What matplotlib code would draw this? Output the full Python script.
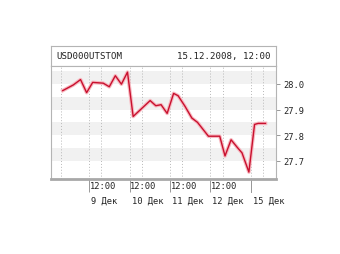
import matplotlib
matplotlib.use("Agg")
import matplotlib.pyplot as plt
import matplotlib.transforms as mtransforms

# trading-time axis: hours from 9 Dec 12:00, 10 trading hours per day
hours = [-6.5, -3.9, -2.1, -0.6, 0.9, 3.5, 5.0, 6.5, 8.0, 9.5,
         10.9, 13.0, 15.1, 16.5, 17.8, 19.3, 20.9, 22.0, 23.7, 25.4,
         26.8, 29.5, 32.3, 33.6, 35.1, 36.7, 37.8, 39.5, 40.9, 41.8, 43.6]
rate = [27.974, 27.996, 28.017, 27.966, 28.006, 28.003, 27.989, 28.032, 27.999, 28.046,
        27.873, 27.904, 27.935, 27.915, 27.919, 27.885, 27.963, 27.954, 27.913, 27.867,
        27.850, 27.796, 27.796, 27.719, 27.782, 27.751, 27.731, 27.656, 27.842, 27.846, 27.846]

title_left = "USD000UTSTOM"
title_right = "15.12.2008, 12:00"
noon_ticks = [0, 10, 20, 30]
day_labels = ["9 Дек", "10 Дек", "11 Дек", "12 Дек"]
last_tick = 40
last_label = "15 Дек"
grid_x = [-7, 0, 3, 10, 13, 20, 23, 30, 33, 40, 43]
y_ticks = [27.7, 27.8, 27.9, 28.0]
bands = [(27.70, 27.75), (27.80, 27.85), (27.90, 27.95), (28.00, 28.05)]

W, H = 340, 255
fig = plt.figure(figsize=(W / 100, H / 100), dpi=100)
mono = "DejaVu Sans Mono"
border = "#b4b4b4"

# header strip
hx = fig.add_axes([51 / W, 1 - 67 / H, 225 / W, 20 / H])
hx.set_xticks([])
hx.set_yticks([])
for s in hx.spines.values():
    s.set_color(border)
    s.set_linewidth(0.8)
hx.text(0.025, 0.5, title_left, family=mono, fontsize=6.6, va="center", ha="left", color="#222222")
hx.text(0.975, 0.5, title_right, family=mono, fontsize=6.6, va="center", ha="right", color="#222222")

# main plot
ax = fig.add_axes([51 / W, 1 - 180 / H, 225 / W, 113 / H])
ax.set_xlim(-9.4, 46.2)
ax.set_ylim(27.629, 28.070)
for lo, hi in bands:
    ax.axhspan(lo, hi, color="#f1f1f1", lw=0, zorder=0)
for gx in grid_x:
    ax.axvline(gx, color="#b8b8b8", lw=0.7, ls=(0, (1, 2)), zorder=1)

ax.plot(hours, rate, color="#f7b8c0", lw=2.6, solid_joinstyle="round", zorder=2)
ax.plot(hours, rate, color="#c8102e", lw=1.0, solid_joinstyle="round", zorder=3)

for name, s in ax.spines.items():
    s.set_color(border)
    s.set_linewidth(0.8)
ax.spines["bottom"].set_linewidth(2.0)
ax.spines["bottom"].set_color("#a8a8a8")

ax.yaxis.tick_right()
ax.set_yticks(y_ticks)
ax.set_yticklabels([f"{v:.1f}" for v in y_ticks], family=mono, fontsize=6.3, color="#222222")
ax.tick_params(axis="y", length=3, width=0.7, color="#999999", pad=2)

ax.set_xticks(noon_ticks + [last_tick])
ax.set_xticklabels([])
ax.tick_params(axis="x", length=9, width=0.7, color="#999999")

trans = mtransforms.blended_transform_factory(ax.transData, ax.transAxes)
off1 = -6.5 / 113
off2 = -21 / 113
for t, lab in zip(noon_ticks, day_labels):
    ax.text(t + 0.15, off1, "12:00", transform=trans, family=mono, fontsize=6.3,
            ha="left", va="center", color="#222222")
    ax.text(t + 0.5, off2, lab, transform=trans, family=mono, fontsize=6.3,
            ha="left", va="center", color="#222222")
ax.plot([last_tick, last_tick], [0, -13 / 113], transform=trans, color="#999999",
        lw=0.7, clip_on=False)
ax.text(last_tick + 0.5, off2, last_label, transform=trans, family=mono, fontsize=6.3,
        ha="left", va="center", color="#222222")

fig.savefig("out.png", dpi=100, facecolor="white")
